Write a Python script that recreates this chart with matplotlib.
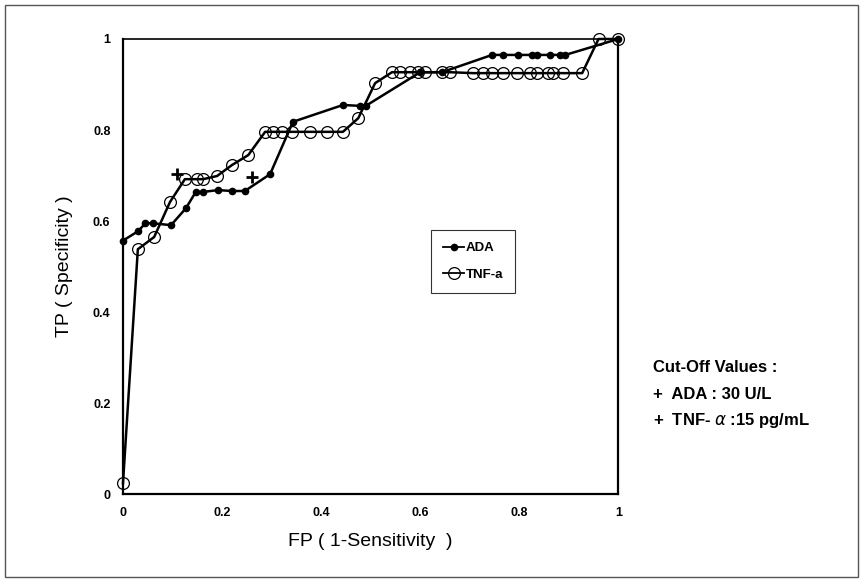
import numpy as np
import matplotlib
matplotlib.use("Agg")
import matplotlib.pyplot as plt
from matplotlib.patches import Rectangle

# ROC points
ada_fp = [0.0, 0.031, 0.045, 0.06, 0.097, 0.127, 0.147, 0.162, 0.192, 0.220, 0.246,
          0.297, 0.343, 0.444, 0.479, 0.49, 0.60, 0.644, 0.745, 0.768, 0.798, 0.826,
          0.836, 0.863, 0.883, 0.893, 1.0]
ada_tp = [0.557, 0.578, 0.595, 0.595, 0.591, 0.628, 0.664, 0.664, 0.668, 0.666, 0.666,
          0.703, 0.818, 0.855, 0.853, 0.853, 0.927, 0.927, 0.965, 0.965, 0.965, 0.965,
          0.965, 0.965, 0.965, 0.965, 1.0]

tnf_fp = [0.0, 0.03, 0.063, 0.095, 0.125, 0.149, 0.162, 0.19, 0.22, 0.253, 0.287, 0.303,
          0.321, 0.341, 0.378, 0.412, 0.444, 0.475, 0.509, 0.543, 0.56, 0.58, 0.596,
          0.61, 0.644, 0.66, 0.707, 0.727, 0.745, 0.768, 0.796, 0.822, 0.836, 0.857,
          0.869, 0.889, 0.927, 0.96, 1.0]
tnf_tp = [0.024, 0.538, 0.565, 0.642, 0.692, 0.692, 0.692, 0.699, 0.723, 0.745, 0.796,
          0.796, 0.796, 0.796, 0.796, 0.796, 0.796, 0.826, 0.903, 0.927, 0.927, 0.927,
          0.927, 0.927, 0.927, 0.927, 0.925, 0.925, 0.925, 0.925, 0.925, 0.925, 0.925,
          0.925, 0.925, 0.925, 0.925, 1.0, 1.0]

# cut-off points (+)
cut_fp = [0.109, 0.26]
cut_tp = [0.703, 0.697]

ticks = [0, 0.2, 0.4, 0.6, 0.8, 1]
tick_labels = ["0", "0.2", "0.4", "0.6", "0.8", "1"]

narrow = ["Liberation Sans Narrow", "Liberation Sans", "DejaVu Sans"]
arial = ["Liberation Sans", "DejaVu Sans"]

fig = plt.figure(figsize=(8.63, 5.82), dpi=100)
ax = fig.add_axes([0.1425, 0.151, 0.574, 0.782])

ax.plot(tnf_fp, tnf_tp, color="black", lw=1.8, marker="o", ms=8.5,
        mfc="none", mec="black", mew=0.9, label="TNF-a", zorder=3, clip_on=False)
ax.plot(ada_fp, ada_tp, color="black", lw=1.8, marker="o", ms=4.5,
        mfc="black", mec="black", label="ADA", zorder=4, clip_on=False)
ax.plot(cut_fp, cut_tp, ls="none", marker="+", ms=9, mew=2, color="black", zorder=5)

ax.set_xlim(0, 1)
ax.set_ylim(0, 1)
ax.set_xticks(ticks)
ax.set_xticklabels(tick_labels, fontfamily=narrow, fontweight="bold", fontsize=9)
ax.set_yticks(ticks)
ax.set_yticklabels(tick_labels, fontfamily=narrow, fontweight="bold", fontsize=9)
ax.tick_params(length=0, pad=9)
for s in ax.spines.values():
    s.set_linewidth(1.6)
    s.set_color("black")
ax.spines["top"].set_linewidth(1.2)

ax.set_xlabel("FP ( 1-Sensitivity  )", fontfamily=arial, fontsize=14, labelpad=10)
ax.set_ylabel("TP ( Specificity )", fontfamily=arial, fontsize=14, labelpad=14)

handles, labels = ax.get_legend_handles_labels()
leg = ax.legend(handles[::-1], labels[::-1], loc="upper left",
                bbox_to_anchor=(0.622, 0.58), frameon=True, fancybox=False,
                edgecolor="black", handlelength=1.6, handletextpad=0.15,
                borderpad=0.9, labelspacing=1.1, borderaxespad=0,
                prop={"family": arial, "weight": "bold", "size": 9.5})
leg.get_frame().set_linewidth(0.8)
for h in leg.legend_handles:
    h.set_linewidth(1.3)

fig.text(0.757, 0.368, "Cut-Off Values :", fontfamily=arial, fontweight="bold",
         fontsize=12, va="center")
fig.text(0.757, 0.322, "+  ADA : 30 U/L", fontfamily=arial, fontweight="bold",
         fontsize=12, va="center")
fig.text(0.757, 0.277, "+  TNF- $\\alpha$ :15 pg/mL", fontfamily=arial,
         fontweight="bold", fontsize=12, va="center")

fig.patches.append(Rectangle((0.006, 0.008), 0.988, 0.984, transform=fig.transFigure,
                             fill=False, edgecolor="#555555", lw=1))

fig.savefig("out.png", dpi=100)
